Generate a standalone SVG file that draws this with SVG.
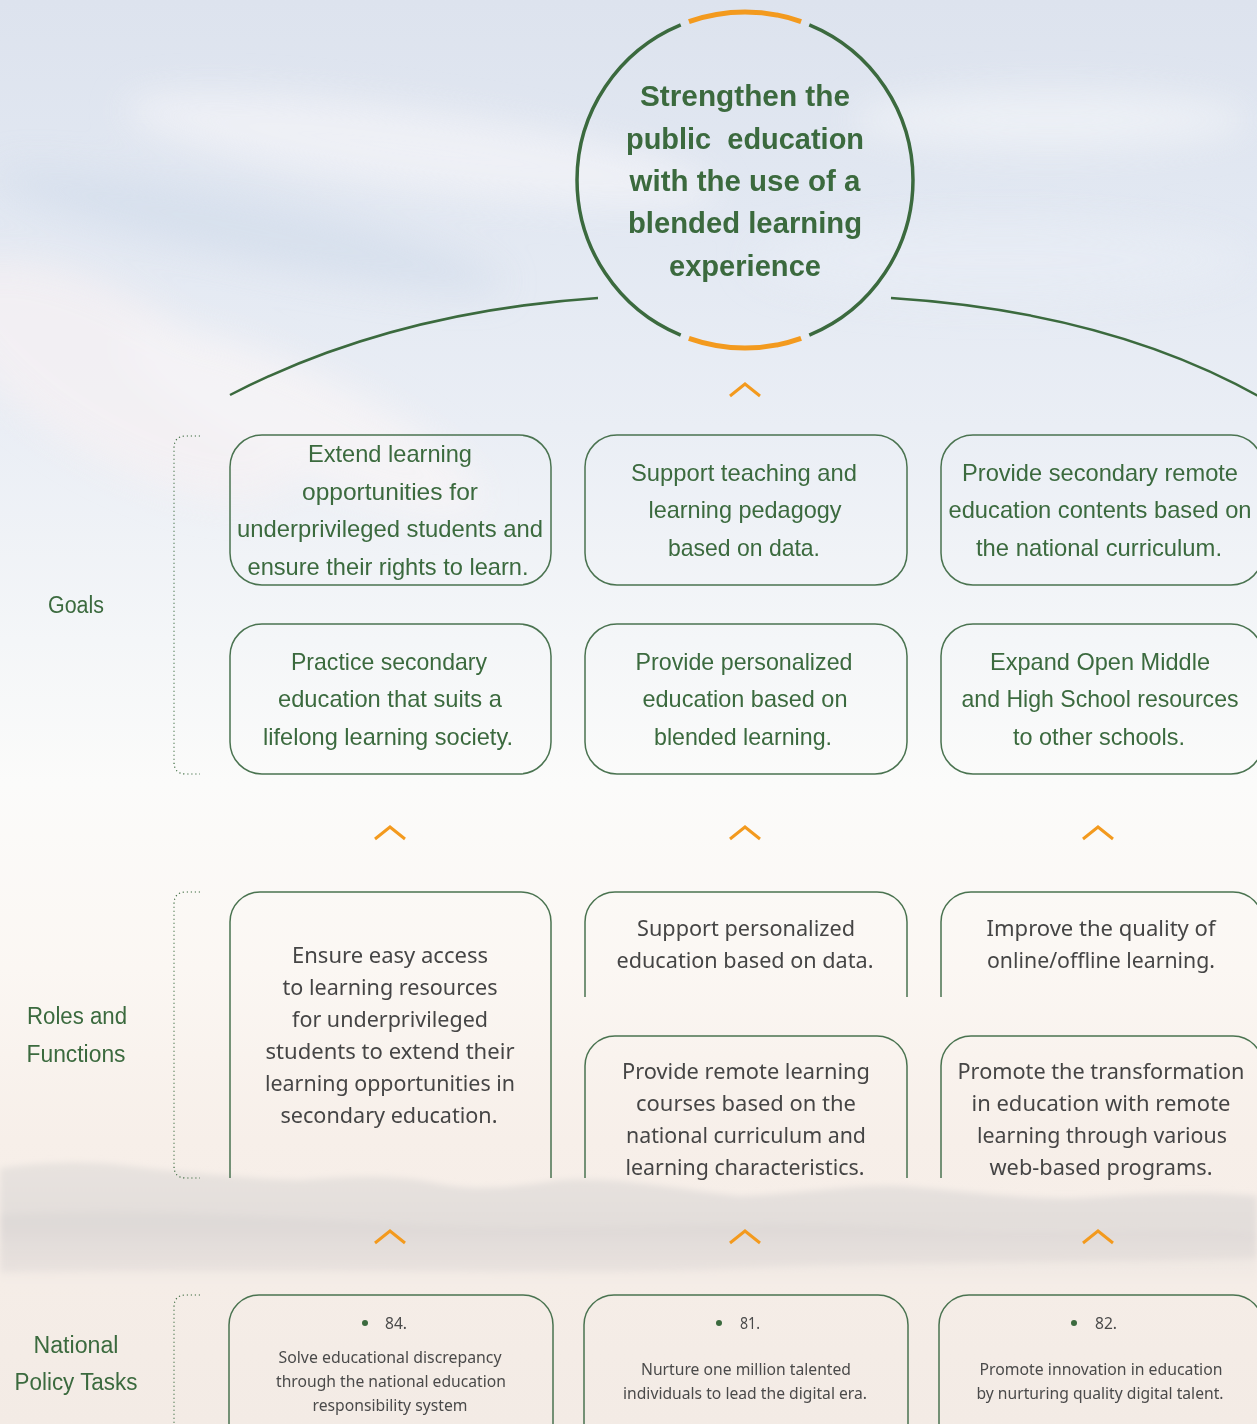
<svg xmlns="http://www.w3.org/2000/svg" width="1257" height="1424" viewBox="0 0 1257 1424">
<defs>
<linearGradient id="bg" x1="0" y1="0" x2="0" y2="1">
<stop offset="0" stop-color="#dde3ee"/>
<stop offset="0.15" stop-color="#e2e8f2"/>
<stop offset="0.3" stop-color="#eaeef5"/>
<stop offset="0.45" stop-color="#f4f6f8"/>
<stop offset="0.55" stop-color="#fbfbfa"/>
<stop offset="0.68" stop-color="#fbf7f3"/>
<stop offset="0.8" stop-color="#f7efe9"/>
<stop offset="1" stop-color="#f3ebe5"/>
</linearGradient>
<linearGradient id="mt" x1="0" y1="0" x2="0" y2="1">
<stop offset="0" stop-color="#e2dedb" stop-opacity="0.7"/>
<stop offset="0.5" stop-color="#dcd8d6" stop-opacity="0.75"/>
<stop offset="1" stop-color="#e6e1dd" stop-opacity="0"/>
</linearGradient>
<filter id="blur" x="-20%" y="-50%" width="140%" height="200%"><feGaussianBlur stdDeviation="18"/></filter>
<filter id="mblur" x="-5%" y="-50%" width="110%" height="200%"><feGaussianBlur stdDeviation="3"/></filter>
<style>
.t{font-family:"Liberation Sans",Arial,sans-serif;text-anchor:middle}
.title{font-weight:bold;font-size:30px;fill:#3b6a3e}
.goal{font-size:24px;fill:#3b6a3e}
.role{font-family:"Noto Sans","Liberation Sans",sans-serif;font-size:22px;fill:#454545}
.pol{font-family:"Noto Sans","Liberation Sans",sans-serif;font-size:16px;fill:#4a4a4a}
.lbl{font-size:23px;fill:#3b6a3e}
.box{fill:none;stroke:#4a7350;stroke-width:1.5}
.brk{fill:none;stroke:#3b6a3e;stroke-width:1.2;stroke-dasharray:1.2 2.8}
.chev{fill:none;stroke:#f39a1e;stroke-width:3}
.ring{fill:none;stroke:#3b6a3e;stroke-width:3.5}
.oring{fill:none;stroke:#f39a1e;stroke-width:5}
.link{fill:none;stroke:#3b6a3e;stroke-width:2.5}
.dot{fill:#3b6a3e}
</style>
</defs>
<g id="background">
<rect width="1257" height="1424" fill="url(#bg)"/>
<g filter="url(#blur)" opacity="0.7">
<ellipse cx="420" cy="150" rx="300" ry="40" fill="#f4f4f8" transform="rotate(8 420 150)"/>
<ellipse cx="250" cy="230" rx="260" ry="30" fill="#d3ddeb" transform="rotate(12 250 230)"/>
<ellipse cx="120" cy="380" rx="200" ry="80" fill="#f7f1f3" transform="rotate(30 120 380)"/>
<ellipse cx="300" cy="420" rx="200" ry="50" fill="#f9f5f6" transform="rotate(25 300 420)"/>
<ellipse cx="1050" cy="120" rx="200" ry="30" fill="#f2f4f8"/>
<ellipse cx="1000" cy="260" rx="250" ry="40" fill="#e8edf5"/>
</g>
<g filter="url(#mblur)">
<path d="M0,1168 C40,1162 90,1160 130,1166 C190,1174 250,1178 300,1180 C350,1176 400,1174 440,1184 C480,1192 520,1186 560,1180 C620,1176 680,1190 740,1196 C800,1194 850,1184 900,1186 C960,1190 1020,1200 1080,1198 C1140,1194 1200,1190 1257,1196 L1257,1290 L0,1290 Z" fill="url(#mt)"/>
<path d="M0,1215 C150,1205 300,1220 450,1226 C600,1232 750,1218 900,1228 C1050,1236 1150,1226 1257,1232 L1257,1258 C1100,1264 900,1260 700,1270 C500,1274 300,1268 0,1272 Z" fill="#d6d2d0" opacity="0.35"/>
</g>
</g>
<g id="connectors">
<path class="link" d="M598,298 Q390,312 230,395"/>
<path class="link" d="M891,298 Q1110,312 1262,398"/>
<polyline class="chev" points="730,396 745,384 760,396"/>
<polyline class="chev" points="375,839 390,827 405,839"/>
<polyline class="chev" points="730,839 745,827 760,839"/>
<polyline class="chev" points="1083,839 1098,827 1113,839"/>
<polyline class="chev" points="375,1243 390,1231 405,1243"/>
<polyline class="chev" points="730,1243 745,1231 760,1243"/>
<polyline class="chev" points="1083,1243 1098,1231 1113,1243"/>
</g>
<g id="brackets">
<path class="brk" d="M200,436 H186 Q174,436 174,448 V762 Q174,774 186,774 H200"/>
<path class="brk" d="M200,892 H186 Q174,892 174,904 V1166 Q174,1178 186,1178 H200"/>
<path class="brk" d="M200,1295 H186 Q174,1295 174,1307 V1430"/>
</g>
<g id="labels">
<text class="t lbl" x="76" y="613" textLength="56" lengthAdjust="spacingAndGlyphs">Goals</text>
<text class="t lbl" x="77" y="1024" textLength="100" lengthAdjust="spacingAndGlyphs">Roles and</text>
<text class="t lbl" x="76" y="1062" textLength="99" lengthAdjust="spacingAndGlyphs">Functions</text>
<text class="t lbl" x="76" y="1353" textLength="85" lengthAdjust="spacingAndGlyphs">National</text>
<text class="t lbl" x="76" y="1390" textLength="123" lengthAdjust="spacingAndGlyphs">Policy Tasks</text>
</g>
<g id="vision">
<path class="ring" d="M809.3,24.8 A168,168 0 0 1 809.3,335.2"/>
<path class="ring" d="M680.7,335.2 A168,168 0 0 1 680.7,24.8"/>
<path class="oring" d="M688.9,21.6 A168,168 0 0 1 801.1,21.6"/>
<path class="oring" d="M801.1,338.4 A168,168 0 0 1 688.9,338.4"/>
<text class="t title" x="745" y="106" textLength="210" lengthAdjust="spacingAndGlyphs">Strengthen the</text>
<text class="t title" x="745" y="148.5" textLength="238" lengthAdjust="spacingAndGlyphs" style="white-space:pre">public  education</text>
<text class="t title" x="745" y="191" textLength="231" lengthAdjust="spacingAndGlyphs">with the use of a</text>
<text class="t title" x="745" y="233" textLength="234" lengthAdjust="spacingAndGlyphs">blended learning</text>
<text class="t title" x="745" y="275.5" textLength="152" lengthAdjust="spacingAndGlyphs">experience</text>
</g>
<g id="goal-1">
<rect class="box" x="230" y="435" width="321" height="150" rx="32"/>
<text class="t goal" x="390" y="462" textLength="164" lengthAdjust="spacingAndGlyphs">Extend learning</text>
<text class="t goal" x="390" y="500" textLength="176" lengthAdjust="spacingAndGlyphs">opportunities for</text>
<text class="t goal" x="390" y="537" textLength="306" lengthAdjust="spacingAndGlyphs">underprivileged students and</text>
<text class="t goal" x="388" y="575" textLength="281" lengthAdjust="spacingAndGlyphs">ensure their rights to learn.</text>
</g>
<g id="goal-2">
<rect class="box" x="585" y="435" width="322" height="150" rx="32"/>
<text class="t goal" x="744" y="481" textLength="226" lengthAdjust="spacingAndGlyphs">Support teaching and</text>
<text class="t goal" x="745" y="518" textLength="193" lengthAdjust="spacingAndGlyphs">learning pedagogy</text>
<text class="t goal" x="744" y="556" textLength="152" lengthAdjust="spacingAndGlyphs">based on data.</text>
</g>
<g id="goal-3">
<rect class="box" x="941" y="435" width="322" height="150" rx="32"/>
<text class="t goal" x="1100" y="481" textLength="276" lengthAdjust="spacingAndGlyphs">Provide secondary remote</text>
<text class="t goal" x="1100" y="518" textLength="303" lengthAdjust="spacingAndGlyphs">education contents based on</text>
<text class="t goal" x="1099" y="556" textLength="246" lengthAdjust="spacingAndGlyphs">the national curriculum.</text>
</g>
<g id="goal-4">
<rect class="box" x="230" y="624" width="321" height="150" rx="32"/>
<text class="t goal" x="389" y="670" textLength="196" lengthAdjust="spacingAndGlyphs">Practice secondary</text>
<text class="t goal" x="390" y="707" textLength="224" lengthAdjust="spacingAndGlyphs">education that suits a</text>
<text class="t goal" x="388" y="745" textLength="250" lengthAdjust="spacingAndGlyphs">lifelong learning society.</text>
</g>
<g id="goal-5">
<rect class="box" x="585" y="624" width="322" height="150" rx="32"/>
<text class="t goal" x="744" y="670" textLength="217" lengthAdjust="spacingAndGlyphs">Provide personalized</text>
<text class="t goal" x="745" y="707" textLength="205" lengthAdjust="spacingAndGlyphs">education based on</text>
<text class="t goal" x="743" y="745" textLength="178" lengthAdjust="spacingAndGlyphs">blended learning.</text>
</g>
<g id="goal-6">
<rect class="box" x="941" y="624" width="322" height="150" rx="32"/>
<text class="t goal" x="1100" y="670" textLength="220" lengthAdjust="spacingAndGlyphs">Expand Open Middle</text>
<text class="t goal" x="1100" y="707" textLength="277" lengthAdjust="spacingAndGlyphs">and High School resources</text>
<text class="t goal" x="1099" y="745" textLength="172" lengthAdjust="spacingAndGlyphs">to other schools.</text>
</g>
<g id="role-1">
<path class="box" d="M230,1178 V922 A30,30 0 0 1 260,892 H521 A30,30 0 0 1 551,922 V1178"/>
<text class="t role" x="390" y="963" textLength="196" lengthAdjust="spacingAndGlyphs">Ensure easy access</text>
<text class="t role" x="390" y="995" textLength="215" lengthAdjust="spacingAndGlyphs">to learning resources</text>
<text class="t role" x="390" y="1027" textLength="196" lengthAdjust="spacingAndGlyphs">for underprivileged</text>
<text class="t role" x="390" y="1059" textLength="249" lengthAdjust="spacingAndGlyphs">students to extend their</text>
<text class="t role" x="390" y="1091" textLength="250" lengthAdjust="spacingAndGlyphs">learning opportunities in</text>
<text class="t role" x="389" y="1123" textLength="217" lengthAdjust="spacingAndGlyphs">secondary education.</text>
</g>
<g id="role-2">
<path class="box" d="M585,997 V922 A30,30 0 0 1 615,892 H877 A30,30 0 0 1 907,922 V997"/>
<text class="t role" x="746" y="936" textLength="218" lengthAdjust="spacingAndGlyphs">Support personalized</text>
<text class="t role" x="745" y="968" textLength="257" lengthAdjust="spacingAndGlyphs">education based on data.</text>
</g>
<g id="role-3">
<path class="box" d="M941,997 V922 A30,30 0 0 1 971,892 H1233 A30,30 0 0 1 1263,922 V997"/>
<text class="t role" x="1101" y="936" textLength="229" lengthAdjust="spacingAndGlyphs">Improve the quality of</text>
<text class="t role" x="1101" y="968" textLength="228" lengthAdjust="spacingAndGlyphs">online/offline learning.</text>
</g>
<g id="role-4">
<path class="box" d="M585,1178 V1066 A30,30 0 0 1 615,1036 H877 A30,30 0 0 1 907,1066 V1178"/>
<text class="t role" x="746" y="1079" textLength="248" lengthAdjust="spacingAndGlyphs">Provide remote learning</text>
<text class="t role" x="746" y="1111" textLength="220" lengthAdjust="spacingAndGlyphs">courses based on the</text>
<text class="t role" x="746" y="1143" textLength="240" lengthAdjust="spacingAndGlyphs">national curriculum and</text>
<text class="t role" x="745" y="1175" textLength="239" lengthAdjust="spacingAndGlyphs">learning characteristics.</text>
</g>
<g id="role-5">
<path class="box" d="M941,1178 V1066 A30,30 0 0 1 971,1036 H1233 A30,30 0 0 1 1263,1066 V1178"/>
<text class="t role" x="1101" y="1079" textLength="287" lengthAdjust="spacingAndGlyphs">Promote the transformation</text>
<text class="t role" x="1101" y="1111" textLength="259" lengthAdjust="spacingAndGlyphs">in education with remote</text>
<text class="t role" x="1102" y="1143" textLength="250" lengthAdjust="spacingAndGlyphs">learning through various</text>
<text class="t role" x="1101" y="1175" textLength="223" lengthAdjust="spacingAndGlyphs">web-based programs.</text>
</g>
<g id="policy-84">
<path class="box" d="M229,1440 V1325 A30,30 0 0 1 259,1295 H523 A30,30 0 0 1 553,1325 V1440"/>
<circle class="dot" cx="365" cy="1323" r="3"/>
<text class="pol" x="385" y="1329" textLength="22" lengthAdjust="spacingAndGlyphs">84.</text>
<text class="t pol" x="390" y="1363" textLength="223" lengthAdjust="spacingAndGlyphs">Solve educational discrepancy</text>
<text class="t pol" x="391" y="1387" textLength="230" lengthAdjust="spacingAndGlyphs">through the national education</text>
<text class="t pol" x="390" y="1411" textLength="155" lengthAdjust="spacingAndGlyphs">responsibility system</text>
</g>
<g id="policy-81">
<path class="box" d="M584,1440 V1325 A30,30 0 0 1 614,1295 H878 A30,30 0 0 1 908,1325 V1440"/>
<circle class="dot" cx="719" cy="1323" r="3"/>
<text class="pol" x="740" y="1329" textLength="20" lengthAdjust="spacingAndGlyphs">81.</text>
<text class="t pol" x="746" y="1375" textLength="210" lengthAdjust="spacingAndGlyphs">Nurture one million talented</text>
<text class="t pol" x="745" y="1399" textLength="244" lengthAdjust="spacingAndGlyphs">individuals to lead the digital era.</text>
</g>
<g id="policy-82">
<path class="box" d="M939,1440 V1325 A30,30 0 0 1 969,1295 H1233 A30,30 0 0 1 1263,1325 V1440"/>
<circle class="dot" cx="1074" cy="1323" r="3"/>
<text class="pol" x="1095" y="1329" textLength="22" lengthAdjust="spacingAndGlyphs">82.</text>
<text class="t pol" x="1101" y="1375" textLength="243" lengthAdjust="spacingAndGlyphs">Promote innovation in education</text>
<text class="t pol" x="1100" y="1399" textLength="247" lengthAdjust="spacingAndGlyphs">by nurturing quality digital talent.</text>
</g>
</svg>
